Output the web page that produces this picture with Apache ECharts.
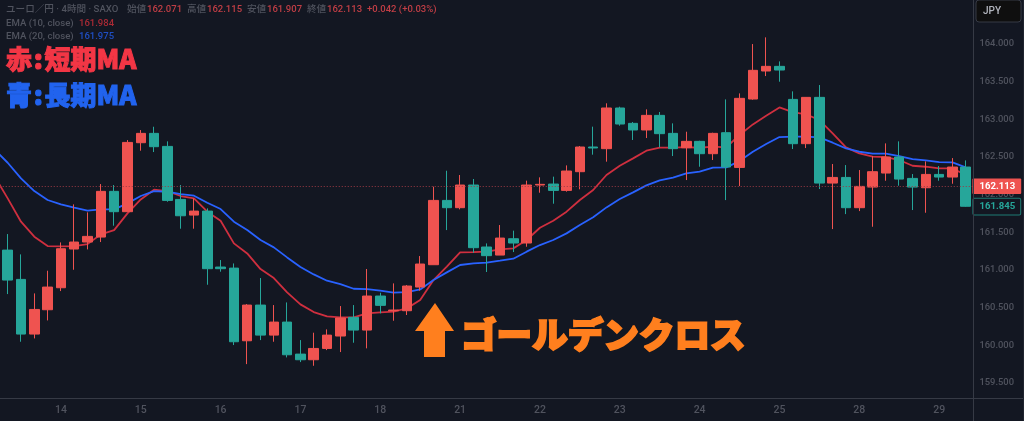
<!DOCTYPE html>
<html><head><meta charset="utf-8">
<style>html,body{margin:0;padding:0;background:#131722;overflow:hidden;width:1024px;height:421px}#c{position:absolute;left:-20px;top:0;width:1044px;height:421px}</style>
<script src="https://cdn.jsdelivr.net/npm/echarts@6/dist/echarts.min.js"></script>
</head><body><div id="c"></div>
<script>
const dayLabels = {5:'14',11:'15',17:'16',23:'17',29:'18',35:'21',41:'22',47:'23',53:'24',59:'25',65:'28',71:'29'};
const categories = Array.from({length:74},(_,i)=>dayLabels[i]||'');
const priceTicks = [159.5,160,160.5,161,161.5,162,162.5,163,163.5,164];
// [open, close, low, high]; red = rising, teal = falling
const candles = [
[161.263,160.865,160.679,161.476],[160.874,160.148,160.046,161.206],[160.148,160.475,160.090,160.688],
[160.471,160.772,160.329,160.989],[160.763,161.281,160.719,161.365],[161.277,161.370,161.002,161.870],
[161.370,161.445,161.272,161.764],[161.436,162.043,161.370,162.140],[162.043,161.773,161.587,162.127],
[161.773,162.693,161.773,162.724],[162.689,162.813,162.583,162.857],[162.813,162.636,162.565,162.901],
[162.640,161.923,161.905,162.707],[161.936,161.719,161.547,162.127],[161.728,161.781,161.547,161.950],
[161.781,161.016,160.803,161.817],[161.038,161.016,160.976,161.131],[161.024,160.046,160.002,161.086],
[160.059,160.533,159.749,160.546],[160.533,160.134,160.068,160.892],[160.134,160.307,160.046,160.533],
[160.307,159.873,159.838,160.568],[159.882,159.807,159.776,160.068],[159.807,159.957,159.727,160.166],
[159.957,160.134,159.935,160.210],[160.122,160.361,159.909,160.520],[160.370,160.201,160.033,160.533],
[160.201,160.653,159.958,161.012],[160.653,160.529,160.423,160.697],[160.458,160.467,160.325,160.821],
[160.458,160.786,160.401,160.799],[160.772,161.078,160.724,161.184],[161.069,161.923,161.069,162.105],
[161.923,161.826,161.529,162.317],[161.826,162.127,161.804,162.260],[162.127,161.295,161.228,162.207],
[161.304,161.189,160.972,161.352],[161.197,161.423,161.197,161.596],[161.414,161.357,161.237,161.521],
[161.357,162.127,161.308,162.185],[162.127,162.136,162.025,162.229],[162.140,162.056,161.879,162.238],
[162.056,162.313,162.039,162.388],[162.304,162.632,162.070,162.645],[162.632,162.619,162.530,162.902],
[162.610,163.150,162.437,163.212],[163.150,162.937,162.915,163.167],[162.946,162.858,162.725,162.964],
[162.858,163.052,162.751,163.132],[163.052,162.809,162.627,163.097],[162.813,162.610,162.512,162.946],
[162.622,162.707,162.193,162.835],[162.707,162.543,162.370,162.715],[162.543,162.813,162.459,162.822],
[162.822,162.366,161.927,163.264],[162.361,163.278,162.113,163.344],[163.269,163.650,163.260,163.999],
[163.641,163.703,163.574,164.088],[163.703,163.654,163.499,163.769],[163.264,162.676,162.605,163.371],
[162.676,163.291,162.618,163.291],[163.291,162.153,162.074,163.455],[162.153,162.228,161.542,162.406],
[162.228,161.826,161.741,162.392],[161.826,162.109,161.781,162.326],[162.100,162.304,161.573,162.512],
[162.286,162.499,162.184,162.680],[162.499,162.206,162.118,162.707],[162.215,162.100,161.795,162.273],
[162.091,162.268,161.759,162.441],[162.268,162.233,162.184,162.379],[162.233,162.366,162.144,162.485],
[162.366,161.845,161.839,162.454]];
const emaShort = [162.246,161.950,161.640,161.441,161.317,161.312,161.317,161.343,161.472,161.529,161.750,161.936,162.065,162.047,161.981,161.950,161.773,161.653,161.352,161.219,161.011,160.892,160.701,160.542,160.440,160.382,160.369,160.370,160.423,160.436,160.445,160.489,160.600,160.865,161.043,161.233,161.237,161.242,161.273,161.286,161.397,161.560,161.653,161.773,161.928,162.061,162.260,162.384,162.481,162.583,162.623,162.623,162.631,162.622,162.636,162.627,162.791,162.932,163.047,163.158,163.096,163.065,162.990,162.813,162.627,162.547,162.503,162.499,162.459,162.383,162.370,162.348,162.348,162.260];
const emaLong = [162.600,162.423,162.215,162.047,161.928,161.870,161.826,161.786,161.804,161.804,161.883,161.981,162.047,162.038,162.007,161.985,161.892,161.808,161.640,161.529,161.396,161.299,161.166,161.038,160.940,160.856,160.812,160.750,160.746,160.724,160.697,160.706,160.741,160.865,160.967,161.065,161.087,161.096,161.122,161.149,161.242,161.330,161.397,161.485,161.596,161.698,161.830,161.941,162.030,162.123,162.189,162.225,162.282,162.304,162.357,162.361,162.445,162.569,162.671,162.764,162.769,162.769,162.760,162.689,162.614,162.569,162.543,162.543,162.512,162.472,162.454,162.432,162.428,162.361];
const lastPrice = 162.113, countdownPrice = 161.845;

const UP='#ef5350', DOWN='#26a69a', BG='#131722', LINE='#363a45', MUTED='#50535e';
const FONT='Roboto, "Noto Sans CJK JP", sans-serif';
const CJK='"Noto Sans CJK JP", sans-serif';
const txt=(x,y,text,fill,size,extra)=>({type:'text',x,y,silent:true,z:50,style:Object.assign({text,fill,font:`500 ${size}px ${FONT}`,textVerticalAlign:'middle'},extra||{})});
const bigTxt=(x,y,text,fill,size,sw)=>({type:'text',x,y,silent:true,z:60,style:{text,fill,stroke:fill,lineWidth:sw,font:`900 ${size}px ${CJK}`,textVerticalAlign:'middle'}});
const VAL='#c03e45';
const header=[
 txt(6,10,'ユーロ／円 · 4時間 · SAXO',MUTED,9.6),
 txt(127,10,'始値',MUTED,9.6),txt(147,10,'162.071',VAL,9.5),
 txt(187,10,'高値',MUTED,9.6),txt(207,10,'162.115',VAL,9.5),
 txt(247,10,'安値',MUTED,9.6),txt(267,10,'161.907',VAL,9.5),
 txt(307,10,'終値',MUTED,9.6),txt(327,10,'162.113',VAL,9.5),
 txt(367,10,'+0.042 (+0.03%)',VAL,9.5),
 txt(6,24,'EMA (10, close)',MUTED,9.6),txt(79,24,'161.984','#a92a35',9.5),
 txt(6,37,'EMA (20, close)',MUTED,9.6),txt(79,37,'161.975','#1f4fc4',9.5)
];
const chart=echarts.init(document.getElementById('c'),null,{renderer:'canvas'});
chart.setOption({
 animation:false,backgroundColor:BG,
 grid:{left:7.74,right:51.6,top:0,height:398,containLabel:false},
 xAxis:{type:'category',data:categories,boundaryGap:true,
  axisLine:{show:false},axisTick:{show:false},splitLine:{show:false},
  axisLabel:{interval:0,color:MUTED,fontSize:10.5,fontFamily:FONT,fontWeight:500,margin:7,hideOverlap:false}},
 yAxis:{type:'value',position:'right',min:159.299,max:164.584,scale:true,
  axisLine:{show:false},axisTick:{show:false},splitLine:{show:false},
  axisLabel:{customValues:priceTicks,formatter:v=>v.toFixed(3),color:MUTED,fontSize:9.4,fontWeight:500,fontFamily:FONT,margin:7}},
 series:[
  {type:'line',name:'EMA 10',data:emaShort,showSymbol:false,symbol:'none',z:2,lineStyle:{color:'#cf2f3f',width:1.8},smooth:false},
  {type:'line',name:'EMA 20',data:emaLong,showSymbol:false,symbol:'none',z:2,lineStyle:{color:'#2962ff',width:1.8},smooth:false},
  {type:'candlestick',name:'EUR/JPY',z:3,barWidth:10,
   data:[[null,null,null,null]].concat(candles),
   itemStyle:{color:UP,color0:DOWN,borderColor:UP,borderColor0:DOWN,borderWidth:1},
   markLine:{silent:true,symbol:'none',animation:false,z:4,
    data:[
     {yAxis:lastPrice,lineStyle:{color:'#9c3a44',type:[1,2],width:1},
      label:{show:true,position:'end',distance:0,formatter:lastPrice.toFixed(3),color:'#fff',fontSize:9.6,fontWeight:'bold',fontFamily:FONT,backgroundColor:UP,padding:[3,6,3,7],borderRadius:1}},
     {yAxis:countdownPrice,lineStyle:{color:'rgba(0,0,0,0)',width:0},
      label:{show:true,position:'end',distance:1,formatter:countdownPrice.toFixed(3),color:'#26a69a',fontSize:9.6,fontWeight:'bold',fontFamily:FONT,backgroundColor:BG,borderColor:'#1f7d75',borderWidth:1,padding:[3,5,3,6],borderRadius:1}}
    ]}
  }
 ],
 graphic:[{type:'group',x:20,y:0,children:[
  {type:'line',silent:true,z:40,shape:{x1:0,y1:398.5,x2:1024,y2:398.5},style:{stroke:LINE,lineWidth:1}},
  {type:'line',silent:true,z:40,shape:{x1:973.5,y1:0,x2:973.5,y2:421},style:{stroke:LINE,lineWidth:1}},
  {type:'line',silent:true,z:40,shape:{x1:1023.5,y1:0,x2:1023.5,y2:421},style:{stroke:'#1f232e',lineWidth:1}},
  {type:'rect',silent:true,z:40,shape:{x:976,y:0,width:45,height:22,r:3},style:{fill:'#0f0f0f',stroke:'#363a45',lineWidth:1}},
  txt(983,11.5,'JPY','#b2b5be',10),
  ...header,
  bigTxt(6,59,'赤\u200a:\u200a短期MA','#f23645',26,1),
  bigTxt(6,95,'青\u200a:\u200a長期MA','#2163ee',26,1),
  {type:'polygon',silent:true,z:60,shape:{points:[[435,303],[454,331],[445,331],[445,357],[424,357],[424,331],[415,331]]},style:{fill:'#ff7f1e'}},
  bigTxt(461,334,'ゴールデンクロス','#ff7f1e',35.6,2)
 ]}]
});
</script></body></html>
